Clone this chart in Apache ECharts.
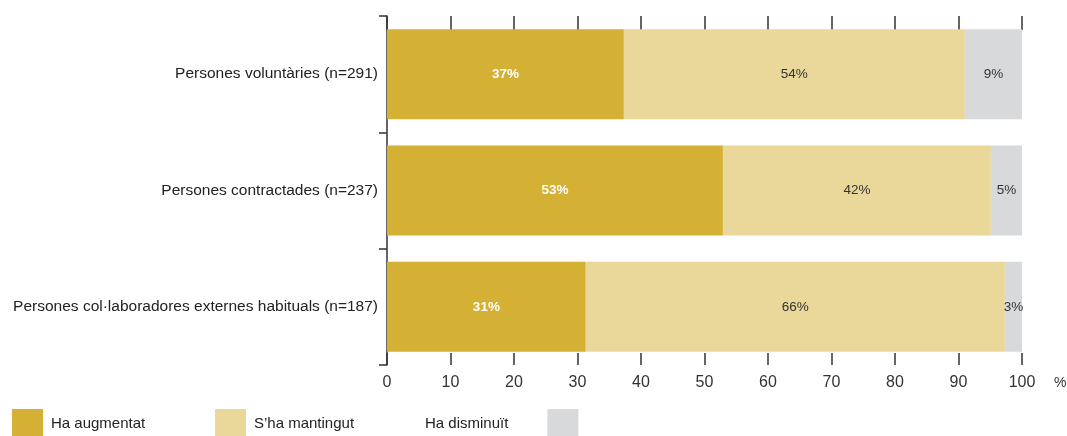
<!DOCTYPE html>
<html>
<head>
<meta charset="utf-8">
<script src="https://cdn.jsdelivr.net/npm/echarts@6/dist/echarts.min.js"></script>
<style>
html,body{margin:0;padding:0;background:#fff;}
#c{width:1067px;height:436px;}
</style>
</head>
<body>
<div id="c"></div>
<script>
var categories = ['Persones voluntàries (n=291)', 'Persones contractades (n=237)', 'Persones col·laboradores externes habituals (n=187)'];
var seriesNames = ['Ha augmentat', "S’ha mantingut", 'Ha disminuït'];
var augmentat = [37.3, 52.9, 31.3];
var mantingut = [53.7, 42.2, 66.0];
var disminuit = [9.0, 4.9, 2.7];

var colors = ['#D4B134', '#E9D899', '#D8D9DB'];
var font = '"Liberation Sans", Arial, sans-serif';

var chart = echarts.init(document.getElementById('c'), null, {renderer: 'canvas'});

function mkSeries(name, data, color, labelColor, bold) {
  return {
    name: name,
    type: 'bar',
    stack: 'total',
    data: data,
    barWidth: 90,
    itemStyle: {color: color},
    label: {
      show: true,
      position: 'inside',
      color: labelColor,
      fontFamily: font,
      fontSize: 13.5,
      fontWeight: bold ? 'bold' : 'normal',
      formatter: function (p) { return Math.round(p.value) + '%'; }
    },
    emphasis: {disabled: true},
    animation: false
  };
}

var tickStyle = {color: '#333', width: 1.5};
var legendText = {fontFamily: font, fontSize: 15, color: '#222'};

chart.setOption({
  animation: false,
  textStyle: {fontFamily: font},
  grid: {left: 387, right: 45, top: 16, bottom: 71, containLabel: false, outerBoundsMode: 'none'},
  legend: [
    {
      data: [seriesNames[0]], left: 12, top: 409, padding: 0, itemWidth: 31, itemHeight: 29,
      icon: 'rect', selectedMode: false,
      textStyle: Object.assign({padding: [0, 0, 0, 3]}, legendText)
    },
    {
      data: [seriesNames[1]], left: 215, top: 409, padding: 0, itemWidth: 31, itemHeight: 29,
      icon: 'rect', selectedMode: false,
      textStyle: Object.assign({padding: [0, 0, 0, 3]}, legendText)
    },
    {
      data: [seriesNames[2]], left: 425, top: 409, padding: 0, itemWidth: 31, itemHeight: 29,
      icon: 'rect', selectedMode: false, align: 'right',
      textStyle: Object.assign({padding: [0, 34, 0, 0]}, legendText)
    }
  ],
  xAxis: [
    {
      type: 'value', position: 'bottom', min: 0, max: 100, interval: 10,
      axisLine: {show: false},
      axisTick: {show: true, inside: true, length: 12, lineStyle: tickStyle},
      splitLine: {show: false},
      axisLabel: {show: true, fontFamily: font, fontSize: 16, color: '#333', margin: 10},
      name: '%', nameLocation: 'end', nameGap: 32,
      nameTextStyle: {fontFamily: font, fontSize: 14, color: '#333', verticalAlign: 'top', padding: [11, 0, 0, 0]}
    },
    {
      type: 'value', position: 'top', min: 0, max: 100, interval: 10,
      axisLine: {show: false},
      axisTick: {show: true, inside: true, length: 14, lineStyle: tickStyle},
      splitLine: {show: false},
      axisLabel: {show: false}
    }
  ],
  yAxis: {
    type: 'category', data: categories, inverse: true,
    axisLine: {show: true, lineStyle: {color: '#333', width: 1.5}},
    axisTick: {show: true, length: 8, lineStyle: tickStyle},
    axisLabel: {fontFamily: font, fontSize: 15.5, color: '#222', margin: 9}
  },
  series: [
    mkSeries(seriesNames[0], augmentat, colors[0], '#fff', true),
    mkSeries(seriesNames[1], mantingut, colors[1], '#333', false),
    mkSeries(seriesNames[2], disminuit, colors[2], '#333', false)
  ]
});
</script>
</body>
</html>
